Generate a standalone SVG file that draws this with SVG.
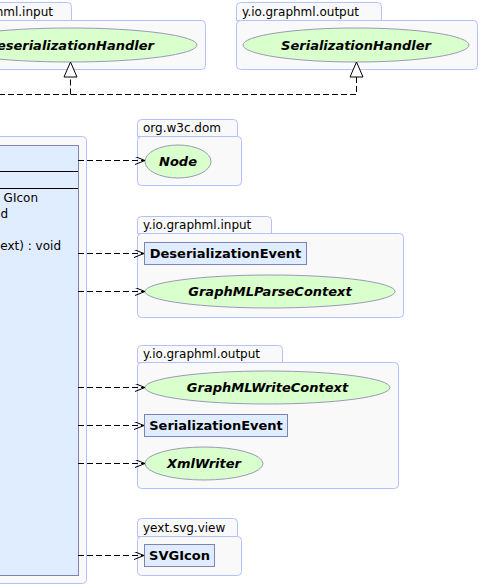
<svg xmlns="http://www.w3.org/2000/svg" width="480" height="586" viewBox="0 0 480 586">
<defs>
<style>
.pkg{fill:#f9f9f9;stroke:#b4c0ff;stroke-width:1}
.plabel{font-family:"DejaVu Sans",sans-serif;font-size:12px;fill:#000}
.ell{fill:#d8ffcc;stroke:#9a9ab8;stroke-width:1}
.cls{fill:#e0ecff;stroke:#7d82b8;stroke-width:1}
.bi{font-family:"DejaVu Sans",sans-serif;font-size:13px;font-weight:bold;font-style:italic;fill:#000;text-anchor:middle}
.b{font-family:"DejaVu Sans",sans-serif;font-size:13px;font-weight:bold;fill:#000;text-anchor:middle}
.mem{font-family:"DejaVu Sans",sans-serif;font-size:12px;fill:#000;text-anchor:end}
.dep{fill:none;stroke:#000;stroke-width:1;stroke-dasharray:6,3}
</style>
<marker id="open" markerUnits="userSpaceOnUse" markerWidth="12" markerHeight="10" refX="10" refY="4" orient="auto">
<path d="M0,0 L10,4 L0,8" fill="none" stroke="#000" stroke-width="1"/>
</marker>
</defs>
<rect width="480" height="586" fill="#fff"/>

<g id="pkg-input-top">
<path class="pkg" d="M-64.5,20.5 V6.5 Q-64.5,2.5 -60.5,2.5 H67.5 Q71.5,2.5 71.5,6.5 V20.5 Z"/>
<rect class="pkg" x="-64.5" y="20.5" width="270" height="49" rx="4"/>
<text class="plabel" x="53" y="16" text-anchor="end">y.io.graphml.input</text>
</g>
<g id="DeserializationHandler">
<ellipse class="ell" cx="70" cy="45" rx="127" ry="17"/>
<text class="bi" x="70" y="50">DeserializationHandler</text>
</g>

<g id="pkg-output-top">
<path class="pkg" d="M236.5,20.5 V6.5 Q236.5,2.5 240.5,2.5 H377.5 Q381.5,2.5 381.5,6.5 V20.5 Z"/>
<rect class="pkg" x="236.5" y="20.5" width="241" height="49" rx="4"/>
<text class="plabel" x="242" y="16">y.io.graphml.output</text>
</g>
<g id="SerializationHandler">
<ellipse class="ell" cx="356" cy="45" rx="113" ry="17"/>
<text class="bi" x="356" y="50">SerializationHandler</text>
</g>

<g id="main-class">
<rect class="pkg" x="-100.5" y="136.5" width="187" height="447" rx="4"/>
<rect class="cls" x="-100.5" y="145.5" width="179" height="430"/>
<line x1="-100" y1="171.5" x2="78" y2="171.5" stroke="#000"/>
<line x1="-100" y1="188.5" x2="78" y2="188.5" stroke="#000"/>
<text class="mem" x="38" y="202">GIcon</text>
<text class="mem" x="8" y="218">d</text>
<text class="mem" x="61" y="250">ext) : void</text>
</g>

<g id="pkg-dom">
<path class="pkg" d="M137.5,136.5 V123.5 Q137.5,119.5 141.5,119.5 H233.5 Q237.5,119.5 237.5,123.5 V136.5 Z"/>
<rect class="pkg" x="137.5" y="136.5" width="104" height="49" rx="4"/>
<text class="plabel" x="143" y="132">org.w3c.dom</text>
</g>
<g id="Node">
<ellipse class="ell" cx="178" cy="161.5" rx="33" ry="16.5"/>
<text class="bi" x="178" y="166">Node</text>
</g>

<g id="pkg-input">
<path class="pkg" d="M137.5,233.5 V220.5 Q137.5,216.5 141.5,216.5 H267.5 Q271.5,216.5 271.5,220.5 V233.5 Z"/>
<rect class="pkg" x="137.5" y="233.5" width="266" height="84" rx="4"/>
<text class="plabel" x="143" y="229">y.io.graphml.input</text>
</g>
<g id="DeserializationEvent">
<rect class="cls" x="144.5" y="242.5" width="162" height="22"/>
<text class="b" x="225.5" y="258">DeserializationEvent</text>
</g>
<g id="GraphMLParseContext">
<ellipse class="ell" cx="270" cy="291.5" rx="125" ry="16.5"/>
<text class="bi" x="270" y="296">GraphMLParseContext</text>
</g>

<g id="pkg-output">
<path class="pkg" d="M137.5,362.5 V349.5 Q137.5,345.5 141.5,345.5 H278.5 Q282.5,345.5 282.5,349.5 V362.5 Z"/>
<rect class="pkg" x="137.5" y="362.5" width="261" height="126" rx="4"/>
<text class="plabel" x="143" y="358">y.io.graphml.output</text>
</g>
<g id="GraphMLWriteContext">
<ellipse class="ell" cx="267.5" cy="387.5" rx="122.5" ry="16.5"/>
<text class="bi" x="267.5" y="392">GraphMLWriteContext</text>
</g>
<g id="SerializationEvent">
<rect class="cls" x="144.5" y="414.5" width="143" height="22"/>
<text class="b" x="216" y="430">SerializationEvent</text>
</g>
<g id="XmlWriter">
<ellipse class="ell" cx="204" cy="463.5" rx="59" ry="16.5"/>
<text class="bi" x="204" y="468">XmlWriter</text>
</g>

<g id="pkg-svg">
<path class="pkg" d="M137.5,536.5 V522.5 Q137.5,518.5 141.5,518.5 H233.5 Q237.5,518.5 237.5,522.5 V536.5 Z"/>
<rect class="pkg" x="137.5" y="536.5" width="104" height="39" rx="4"/>
<text class="plabel" x="143" y="532">yext.svg.view</text>
</g>
<g id="SVGIcon">
<rect class="cls" x="144.5" y="544.5" width="70" height="22"/>
<text class="b" x="179.5" y="560">SVGIcon</text>
</g>

<g id="connectors">
<path class="dep" d="M-10,94.5 H356.5 V77"/>
<path class="dep" d="M70.5,94.5 V77"/>
<path d="M70.5,62 L64,77 H77 Z" fill="#fff" stroke="#000"/>
<path d="M356.5,62 L350,77 H363 Z" fill="#fff" stroke="#000"/>
<line class="dep" x1="78" y1="160.5" x2="145" y2="160.5" marker-end="url(#open)"/>
<line class="dep" x1="78" y1="253.5" x2="144" y2="253.5" marker-end="url(#open)"/>
<line class="dep" x1="78" y1="291.5" x2="145" y2="291.5" marker-end="url(#open)"/>
<line class="dep" x1="78" y1="387.5" x2="145" y2="387.5" marker-end="url(#open)"/>
<line class="dep" x1="78" y1="425.5" x2="144" y2="425.5" marker-end="url(#open)"/>
<line class="dep" x1="78" y1="463.5" x2="145" y2="463.5" marker-end="url(#open)"/>
<line class="dep" x1="78" y1="555.5" x2="144" y2="555.5" marker-end="url(#open)"/>
</g>
</svg>
